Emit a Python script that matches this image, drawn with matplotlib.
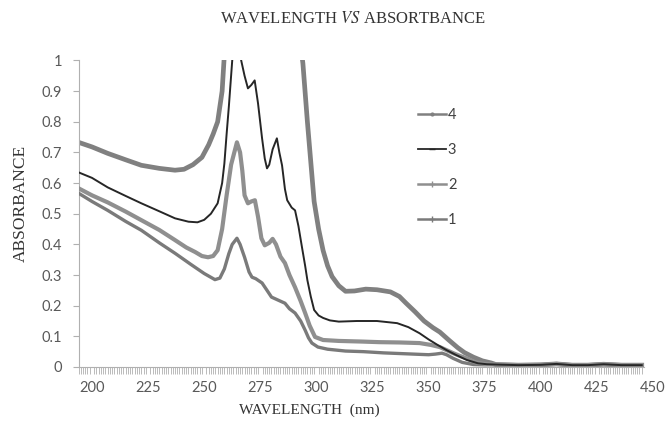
"""
UV absorbance spectra of four samples, 194-445 nm.
"""

import matplotlib
matplotlib.use('Agg')
import matplotlib.pyplot as plt
from matplotlib.lines import Line2D
from matplotlib.ticker import FixedLocator, NullFormatter

plt.rcParams['mathtext.fontset'] = 'stix'

TAIL_WL = [380, 390, 400, 407, 414, 421, 428, 436, 445]
TAIL_A = [0.008, 0.006, 0.007, 0.010, 0.006, 0.006, 0.009, 0.006, 0.006]

# sample 4 (goes off scale between ~259 and ~293 nm)
wl_4 = [194, 200, 207, 215, 222, 230, 237, 241, 245, 249, 252, 254, 256, 258,
        259, 262, 290, 293, 294, 296, 299, 301, 303, 305, 307, 310, 313, 317,
        322, 327, 333, 337, 340, 344, 348, 352, 355, 359, 363, 366, 370, 374,
        378] + TAIL_WL
abs_4 = [0.733, 0.718, 0.697, 0.676, 0.658, 0.648, 0.642, 0.645, 0.660, 0.684,
         0.725, 0.760, 0.800, 0.900, 1.02, 1.25, 1.25, 1.05, 0.99, 0.80, 0.54,
         0.45, 0.38, 0.33, 0.295, 0.265, 0.247, 0.248, 0.254, 0.252, 0.245,
         0.230, 0.208, 0.180, 0.150, 0.128, 0.114, 0.088, 0.063, 0.047, 0.032,
         0.020, 0.013] + TAIL_A

# sample 3
wl_3 = [194, 200, 207, 215, 222, 230, 237, 243, 247, 250, 253, 256, 258, 259,
        260, 261, 262, 263, 265, 266.5, 268, 269.5, 271, 272.5, 274, 275.8,
        277, 278, 279, 280.5, 282.4, 283.5, 284.7, 286, 287, 289, 290.5, 292,
        293.6, 295, 296, 297.5, 299, 301, 303, 306, 310, 318, 327, 336, 341,
        346, 350, 354, 358, 362, 367, 372, 376] + TAIL_WL
abs_3 = [0.635, 0.617, 0.586, 0.558, 0.534, 0.508, 0.485, 0.474, 0.472, 0.480,
         0.500, 0.534, 0.600, 0.664, 0.760, 0.850, 0.950, 1.05, 1.10, 1.00,
         0.950, 0.909, 0.920, 0.935, 0.860, 0.746, 0.680, 0.648, 0.660, 0.710,
         0.746, 0.700, 0.658, 0.580, 0.544, 0.520, 0.511, 0.460, 0.390, 0.330,
         0.283, 0.230, 0.186, 0.168, 0.160, 0.152, 0.148, 0.150, 0.150, 0.143,
         0.130, 0.110, 0.090, 0.072, 0.055, 0.040, 0.023, 0.012, 0.009] + TAIL_A

# sample 2
wl_2 = [194, 200, 207, 215, 222, 230, 237, 242, 246, 249, 251.7, 254, 256,
        258, 260, 262, 264.6, 266, 267, 268, 269.5, 271, 272.6, 274, 275.5,
        277, 279, 280.5, 282, 284, 286, 288, 290.5, 293, 295, 297, 299.4, 303,
        310, 320, 328, 337, 346, 351, 355, 358, 361, 364, 367, 371, 375] + TAIL_WL
abs_2 = [0.583, 0.560, 0.537, 0.507, 0.479, 0.447, 0.414, 0.390, 0.375, 0.362,
         0.358, 0.362, 0.381, 0.450, 0.560, 0.660, 0.733, 0.700, 0.640, 0.560,
         0.534, 0.540, 0.544, 0.490, 0.420, 0.397, 0.405, 0.418, 0.400, 0.360,
         0.339, 0.300, 0.260, 0.215, 0.176, 0.135, 0.098, 0.088, 0.085, 0.083,
         0.081, 0.080, 0.078, 0.072, 0.065, 0.055, 0.045, 0.036, 0.028, 0.015,
         0.010] + TAIL_A

# sample 1
wl_1 = [194, 200, 207, 215, 222, 230, 237, 244, 250, 254.8, 257, 259, 261,
        262.5, 264.6, 266, 268, 270, 271.3, 273, 275.8, 278, 280, 283, 286,
        288, 290.5, 293, 295, 296.5, 298, 300.7, 305, 313, 321, 330, 340, 350,
        353, 356, 358, 361, 365, 370, 375] + TAIL_WL
abs_1 = [0.567, 0.540, 0.511, 0.475, 0.446, 0.405, 0.371, 0.335, 0.305, 0.285,
         0.290, 0.320, 0.370, 0.400, 0.420, 0.400, 0.358, 0.310, 0.293, 0.288,
         0.274, 0.250, 0.228, 0.218, 0.208, 0.190, 0.176, 0.150, 0.120, 0.095,
         0.078, 0.065, 0.058, 0.052, 0.050, 0.046, 0.043, 0.040, 0.042, 0.045,
         0.040, 0.028, 0.015, 0.008, 0.007] + TAIL_A

labels = ['4', '3', '2', '1']
XTICKS = [200, 225, 250, 275, 300, 325, 350, 375, 400, 425, 450]

C4, C3, C2, C1 = '#808080', '#262626', '#8f8f8f', '#7a7a7a'
AXC = '#b0b0b0'
TXT = '#595959'

fig = plt.figure(figsize=(6.7, 4.36), dpi=100)
ax = fig.add_axes([0.1172, 0.1583, 0.8607, 0.703])

ax.plot(wl_1, abs_1, color=C1, lw=2.4, solid_joinstyle='round', zorder=3)
ax.plot(wl_2, abs_2, color=C2, lw=3.0, solid_joinstyle='round', zorder=4)
ax.plot(wl_3, abs_3, color=C3, lw=1.4, solid_joinstyle='round', zorder=5)
ax.plot(wl_4, abs_4, color=C4, lw=3.4, solid_joinstyle='round', zorder=2)

ax.set_xlim(194, 451)
ax.set_ylim(0, 1)

for s in ['top', 'right']:
    ax.spines[s].set_visible(False)
ax.spines['left'].set_color(AXC)
ax.spines['bottom'].set_color(AXC)
ax.spines['bottom'].set_bounds(194, 446)

ax.set_xticks(XTICKS)
ax.set_xticklabels([str(t) for t in XTICKS])
ax.xaxis.set_minor_locator(FixedLocator(list(range(194, 446))))
ax.xaxis.set_minor_formatter(NullFormatter())
ax.tick_params(axis='x', which='major', length=0, pad=10,
               labelsize=10.5, labelcolor=TXT)
ax.tick_params(axis='x', which='minor', length=5, width=0.6, color=AXC)

ax.set_yticks([i / 10 for i in range(11)])
ax.set_yticklabels(['0'] + ['0.%d' % i for i in range(1, 10)] + ['1'])
ax.tick_params(axis='y', length=4, width=0.8, color=AXC, pad=8,
               labelsize=10.5, labelcolor=TXT)
for t in ax.get_xticklabels() + ax.get_yticklabels():
    t.set_family('Lato')

handles = [
    Line2D([], [], color=C4, lw=1.8, marker='.', ms=4),
    Line2D([], [], color=C3, lw=1.3, marker='_', ms=4),
    Line2D([], [], color=C2, lw=1.8, marker='+', ms=4),
    Line2D([], [], color=C1, lw=1.8, marker='+', ms=5),
]
leg = ax.legend(handles, labels, loc='upper left',
                bbox_to_anchor=(418 / 670, 1 - 108 / 436),
                bbox_transform=fig.transFigure, frameon=False,
                handlelength=1.9, handletextpad=0.15, labelspacing=1.45,
                borderpad=0, borderaxespad=0,
                prop={'family': 'Lato', 'size': 10.5})
for t in leg.get_texts():
    t.set_color('#404040')

fig.text(0.527, 0.956, r'WAVELENGTH $\mathit{VS}$ ABSORTBANCE',
         ha='center', va='center', fontsize=12,
         family='Liberation Serif', color='#333333')
fig.text(0.462, 0.058, 'WAVELENGTH  (nm)', ha='center', va='center',
         fontsize=11, family='Liberation Serif', color='#333333')
fig.text(0.031, 0.534, 'ABSORBANCE', ha='center', va='center',
         rotation=90, fontsize=12.5, family='Liberation Serif',
         color='#333333')

fig.savefig('out.png', dpi=100, facecolor='white')
